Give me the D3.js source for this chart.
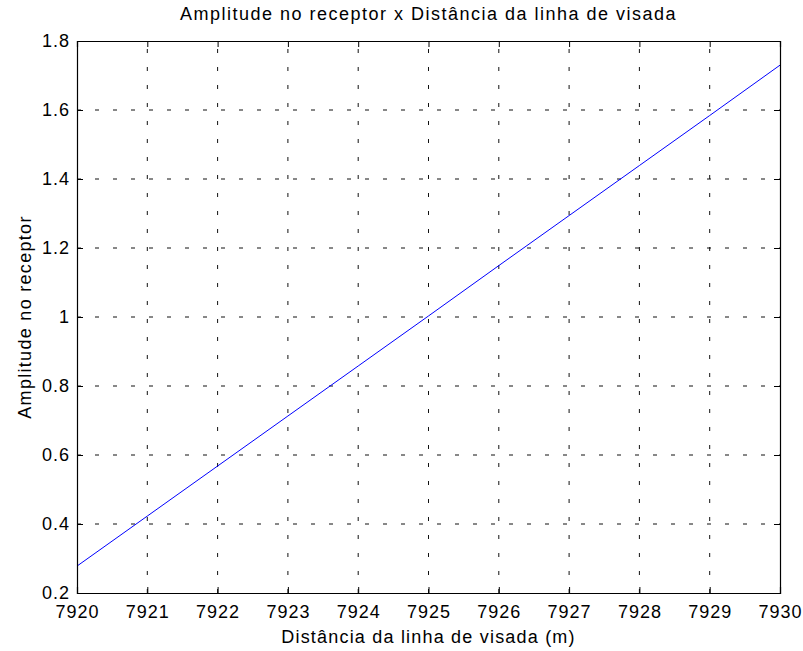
<!DOCTYPE html>
<html>
<head>
<meta charset="utf-8">
<script src="https://cdn.jsdelivr.net/npm/d3@7"></script>
<style>
  body { margin: 0; background: #fff; }
  text { font-family: "Liberation Sans", Arial, sans-serif; fill: #000; }
</style>
</head>
<body>
<svg id="chart" width="803" height="651"></svg>
<script>
// distance along the line of sight (m) and received amplitude
const distancia = [7920, 7921, 7922, 7923, 7924, 7925, 7926, 7927, 7928, 7929, 7930];
const amplitude = [0.278, 0.423, 0.568, 0.713, 0.858, 1.003, 1.149, 1.294, 1.439, 1.584, 1.730];
const xTicks = [7920, 7921, 7922, 7923, 7924, 7925, 7926, 7927, 7928, 7929, 7930];
const yTicks = [0.2, 0.4, 0.6, 0.8, 1, 1.2, 1.4, 1.6, 1.8];

const svg = d3.select("#chart");
const margin = {top: 41, right: 23, bottom: 58, left: 77};
const width = 803 - margin.left - margin.right,
      height = 651 - margin.top - margin.bottom;

const x = d3.scaleLinear().domain([7920, 7930]).range([0, width]);
const y = d3.scaleLinear().domain([0.2, 1.8]).range([height, 0]);

const g = svg.append("g")
    .attr("transform", "translate(" + margin.left + "," + margin.top + ")");

// dotted grid
g.selectAll(".vgrid")
    .data(xTicks.slice(1, -1))
    .enter().append("line")
    .attr("x1", d => x(d)).attr("x2", d => x(d))
    .attr("y1", height).attr("y2", 0)
    .attr("stroke", "#111").attr("stroke-width", 1)
    .attr("stroke-dasharray", "4,14");

g.selectAll(".hgrid")
    .data(yTicks.slice(1, -1))
    .enter().append("line")
    .attr("x1", 0).attr("x2", width)
    .attr("y1", d => y(d)).attr("y2", d => y(d))
    .attr("stroke", "#111").attr("stroke-width", 1)
    .attr("stroke-dasharray", "4,14");

// the curve
const line = d3.line()
    .x((d, i) => x(distancia[i]))
    .y(d => y(d));

g.append("path")
    .datum(amplitude)
    .attr("fill", "none")
    .attr("stroke", "#0000ff")
    .attr("stroke-width", 1)
    .attr("d", line);

// axes, ticks pointing inward, on all four sides
const fmt = d => String(d);
const axBottom = g.append("g")
    .attr("transform", "translate(0," + height + ")")
    .call(d3.axisBottom(x).tickValues(xTicks).tickSize(-6).tickPadding(12).tickFormat(fmt));
const axTop = g.append("g")
    .call(d3.axisTop(x).tickValues(xTicks).tickSize(-6).tickFormat(""));
const axLeft = g.append("g")
    .call(d3.axisLeft(y).tickValues(yTicks).tickSize(-6).tickPadding(7).tickFormat(fmt));
const axRight = g.append("g")
    .attr("transform", "translate(" + width + ",0)")
    .call(d3.axisRight(y).tickValues(yTicks).tickSize(-6).tickFormat(""));

[axBottom, axTop, axLeft, axRight].forEach(a => {
    a.select(".domain").attr("stroke", "#000").attr("stroke-width", 1.2);
    a.selectAll(".tick line").attr("stroke", "#000");
    a.selectAll("text")
        .style("font-family", "'Liberation Sans', Arial, sans-serif")
        .style("font-size", "18px")
        .style("letter-spacing", "1px")
        .attr("fill", "#000");
});

// title and axis labels
svg.append("text")
    .attr("x", margin.left + width / 2).attr("y", 20)
    .attr("text-anchor", "middle")
    .style("font-size", "18px")
    .style("letter-spacing", "1.5px")
    .text("Amplitude no receptor x Distância da linha de visada");

svg.append("text")
    .attr("x", margin.left + width / 2).attr("y", 643)
    .attr("text-anchor", "middle")
    .style("font-size", "18px")
    .style("letter-spacing", "1.2px")
    .text("Distância da linha de visada (m)");

svg.append("text")
    .attr("transform", "translate(31," + (margin.top + height / 2) + ") rotate(-90)")
    .attr("text-anchor", "middle")
    .style("font-size", "18px")
    .style("letter-spacing", "1.3px")
    .text("Amplitude no receptor");
</script>
</body>
</html>
